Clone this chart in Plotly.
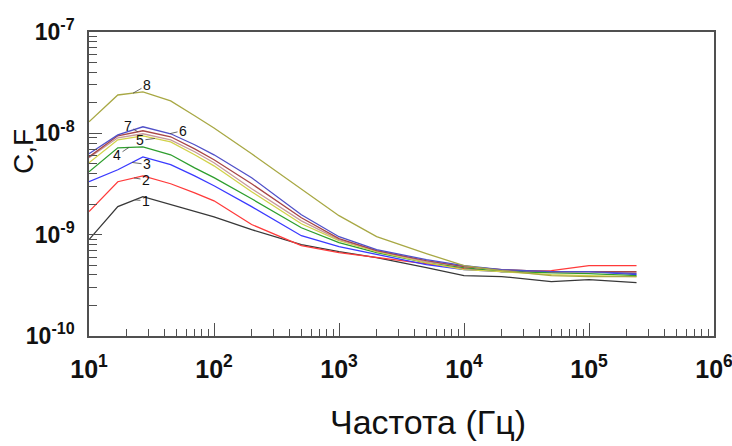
import numpy as np
import plotly.graph_objects as go

# Frequency, Hz
freq = [10, 17, 27, 45, 70, 100, 200, 500, 1000, 2000, 5000, 1e4, 2e4, 5e4, 1e5, 2.4e5]

# Capacitance, F
c1 = [8.93e-10, 1.89e-9, 2.37e-9, 1.98e-9, 1.69e-9, 1.50e-9, 1.12e-9, 7.96e-10, 6.80e-10, 5.93e-10, 4.73e-10, 3.94e-10, 3.86e-10, 3.44e-10, 3.60e-10, 3.36e-10]
c2 = [1.69e-9, 3.33e-9, 3.81e-9, 3.18e-9, 2.59e-9, 2.16e-9, 1.26e-9, 7.80e-10, 6.65e-10, 5.93e-10, 5.18e-10, 4.62e-10, 4.32e-10, 4.42e-10, 4.95e-10, 4.95e-10]
c3 = [3.33e-9, 4.37e-9, 5.86e-9, 4.90e-9, 3.81e-9, 3.04e-9, 1.89e-9, 9.77e-10, 7.62e-10, 6.35e-10, 5.06e-10, 4.52e-10, 4.32e-10, 4.32e-10, 4.32e-10, 4.04e-10]
c4 = [4.18e-9, 7.20e-9, 7.36e-9, 6.14e-9, 4.57e-9, 3.65e-9, 2.26e-9, 1.17e-9, 8.34e-10, 6.65e-10, 5.30e-10, 4.73e-10, 4.32e-10, 4.22e-10, 4.13e-10, 3.94e-10]
c5 = [5.12e-9, 8.63e-9, 9.45e-9, 8.24e-9, 6.14e-9, 4.78e-9, 2.65e-9, 1.28e-9, 8.73e-10, 6.80e-10, 5.30e-10, 4.52e-10, 4.32e-10, 4.04e-10, 3.94e-10, 3.86e-10]
c_pink = [5.74e-9, 9.03e-9, 9.90e-9, 8.63e-9, 6.58e-9, 5.12e-9, 2.84e-9, 1.37e-9, 8.93e-10, 6.95e-10, 5.42e-10, 4.84e-10, 4.52e-10, 4.32e-10, 4.32e-10, 4.22e-10]
c6 = [6.28e-9, 9.66e-9, 1.16e-8, 9.90e-9, 7.71e-9, 6.14e-9, 3.65e-9, 1.57e-9, 9.55e-10, 7.11e-10, 5.67e-10, 4.95e-10, 4.52e-10, 4.32e-10, 4.32e-10, 4.13e-10]
c7 = [5.86e-9, 9.45e-9, 1.06e-8, 9.25e-9, 7.03e-9, 5.48e-9, 3.18e-9, 1.47e-9, 9.13e-10, 6.95e-10, 5.54e-10, 4.84e-10, 4.52e-10, 4.32e-10, 4.32e-10, 4.32e-10]
c8 = [1.30e-8, 2.39e-8, 2.56e-8, 2.09e-8, 1.49e-8, 1.13e-8, 6.28e-9, 2.84e-9, 1.54e-9, 9.55e-10, 6.50e-10, 4.95e-10, 4.42e-10, 3.94e-10, 3.86e-10, 3.86e-10]

x_tick_vals = [1e1, 1e2, 1e3, 1e4, 1e5, 1e6]
x_tick_text = ["10<sup>1</sup>", "10<sup>2</sup>", "10<sup>3</sup>", "10<sup>4</sup>", "10<sup>5</sup>", "10<sup>6</sup>"]
y_tick_vals = [1e-10, 1e-9, 1e-8, 1e-7]
y_tick_text = ["10<sup>-10</sup>", "10<sup>-9</sup>", "10<sup>-8</sup>", "10<sup>-7</sup>"]

x_title = "Частота (Гц)"
y_title = "C,F"

# (label, values, colour, label anchor frequency, text offset x, offset y)
series = [
    ("1", c1, "#383838", 23.3, 11, 1),
    ("2", c2, "#ff3a3a", 22.9, 12, 2),
    ("3", c3, "#3a3aff", 22.1, 15, 2),
    ("4", c4, "#2e9e2e", 20.9, -12, 8),
    ("5", c5, "#d2d24a", 33.7, -15, 2),
    ("", c_pink, "#c89a9a", None, 0, 0),
    ("7", c7, "#a84646", 24.6, -10, -6),
    ("6", c6, "#5050c8", 44.5, 13, -3),
    ("8", c8, "#a8a844", 22.5, 14, -8),
]

fig = go.Figure()
annotations = []
lf = np.log10(freq)
for name, vals, col, fa, ax, ay in series:
    fig.add_trace(go.Scatter(x=freq, y=vals, mode="lines", name=name,
                             line=dict(color=col, width=1.3), showlegend=False))
    if fa is not None:
        ly = np.interp(np.log10(fa), lf, np.log10(vals))
        annotations.append(dict(x=np.log10(fa), y=ly, xref="x", yref="y",
                                text=name, showarrow=True, arrowhead=0,
                                arrowwidth=0.8, arrowcolor="#444", standoff=0,
                                ax=ax, ay=ay,
                                font=dict(size=14, color="#111",
                                          family="Liberation Sans, Arial")))

annotations.append(dict(text=y_title, xref="paper", yref="paper",
                        x=(23 - 89) / 625, y=(336 - 152) / 304,
                        showarrow=False, textangle=-90,
                        xanchor="center", yanchor="middle",
                        font=dict(size=28, color="#111",
                                  family="Liberation Sans, Arial")))
annotations.append(dict(text=x_title, xref="paper", yref="paper",
                        x=(428 - 89) / 625, y=(336 - 422) / 304,
                        showarrow=False, xanchor="center", yanchor="middle",
                        font=dict(size=34, color="#111",
                                  family="Liberation Sans, Arial")))

axis_col = "#505050"
xtick_font = dict(size=25, color="#111", family="Liberation Sans, Arial")
ytick_font = dict(size=23, color="#111", family="Liberation Sans, Arial")

fig.update_xaxes(type="log", range=[1, 6], tickmode="array",
                 tickvals=x_tick_vals,
                 ticktext=["<b>" + t + "</b>" for t in x_tick_text],
                 ticks="inside", ticklen=13, tickwidth=1, tickcolor=axis_col,
                 showline=True, mirror=True, linecolor=axis_col, linewidth=1.5,
                 showgrid=False, zeroline=False, tickfont=xtick_font,
                 ticklabelstandoff=10, ticklabeloverflow="allow",
                 minor=dict(ticks="inside", ticklen=7, dtick="D1",
                            tickcolor=axis_col, tickwidth=1, showgrid=False))
fig.update_yaxes(type="log", range=[-10, -7], tickmode="array",
                 tickvals=y_tick_vals,
                 ticktext=["<b>" + t + "</b>" for t in y_tick_text],
                 ticks="inside", ticklen=13, tickwidth=1, tickcolor=axis_col,
                 showline=True, mirror=True, linecolor=axis_col, linewidth=1.5,
                 showgrid=False, zeroline=False, tickfont=ytick_font,
                 ticklabelstandoff=8, ticklabeloverflow="allow",
                 minor=dict(ticks="inside", ticklen=8, dtick="D1",
                            tickcolor=axis_col, tickwidth=1, showgrid=False))

fig.update_layout(width=732, height=446,
                  margin=dict(l=89, r=18, t=32, b=110, autoexpand=False),
                  paper_bgcolor="white", plot_bgcolor="white",
                  annotations=annotations)

fig.write_html("out.html")
